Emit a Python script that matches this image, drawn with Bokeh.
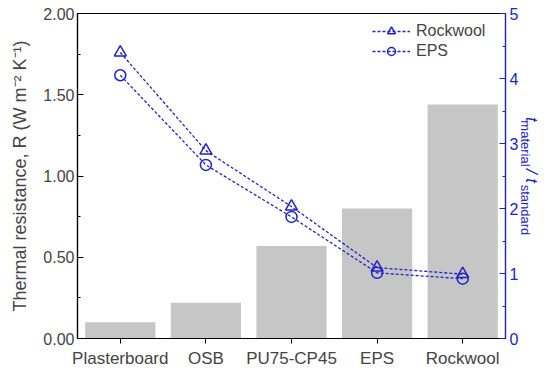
from bokeh.plotting import figure
from bokeh.models import (Range1d, LinearAxis, FactorRange, ColumnDataSource, Legend,
                          LegendItem, NumeralTickFormatter, FixedTicker)
from bokeh.embed import file_html
from bokeh.resources import INLINE

categories = ["Plasterboard", "OSB", "PU75-CP45", "EPS", "Rockwool"]
resistance = [0.10, 0.22, 0.57, 0.80, 1.44]
ratio_rockwool = [4.40, 2.89, 2.03, 1.09, 0.99]
ratio_eps = [4.05, 2.67, 1.87, 1.01, 0.92]

FONT = "Liberation Sans"
BLUE = "#2323C8"
GREY = "#C6C6C6"
NB = "\u00a0"

# approximate Liberation Sans advance widths (em) for spacing the right title
EM = {"t": .278, "/": .278, NB: .278, "m": .833, "a": .556, "e": .556, "r": .333,
      "i": .222, "l": .222, "s": .5, "n": .556, "d": .556}


def tw(s, px):
    return sum(EM.get(ch, .556) for ch in s) * px


MAIN_PX, SUB_PX = 17, 13
# inner (subscript) line: gap + "material" + gap + "standard"
inner_a = NB + "material"
pos_slash = tw(inner_a, SUB_PX) + 2
n1 = round((pos_slash - tw("t", MAIN_PX)) / tw(NB, MAIN_PX))
outer_a = "t" + NB * n1 + "/" + NB + "t"
m = round((tw(outer_a, MAIN_PX) + 1 - tw(inner_a, SUB_PX)) / tw(NB, SUB_PX))
inner = inner_a + NB * m + "standard"
n2 = round((tw(inner, SUB_PX) - tw(outer_a, MAIN_PX)) / tw(NB, MAIN_PX))
outer = outer_a + NB * n2

p = figure(width=550, height=370, x_range=FactorRange(*categories, range_padding=0),
           y_range=Range1d(0, 2.0), output_backend="svg", toolbar_location=None,
           min_border_left=77, min_border_right=45, min_border_top=13, min_border_bottom=30)
p.extra_y_ranges = {"ratio": Range1d(0, 5)}

src = ColumnDataSource(dict(cat=categories, r=resistance, rw=ratio_rockwool, eps=ratio_eps))
p.vbar(x="cat", top="r", width=0.82, source=src, fill_color=GREY, line_color=None)

l1 = p.line(x="cat", y="rw", source=src, y_range_name="ratio", line_color=BLUE,
            line_dash="3 2", line_width=1.3)
m1 = p.scatter(x="cat", y="rw", source=src, y_range_name="ratio", marker="triangle",
               size=12, line_color=BLUE, fill_color="white", fill_alpha=0, line_width=1.5)
l2 = p.line(x="cat", y="eps", source=src, y_range_name="ratio", line_color=BLUE,
            line_dash="3 2", line_width=1.3)
m2 = p.scatter(x="cat", y="eps", source=src, y_range_name="ratio", marker="circle",
               size=11, line_color=BLUE, fill_color="white", fill_alpha=0, line_width=1.5)

p.grid.visible = False
p.outline_line_color = "black"
p.outline_line_width = 1.2
p.background_fill_color = "white"
p.border_fill_color = "white"

# left axis
ya = p.yaxis[0]
ya.ticker = FixedTicker(ticks=[0, 0.5, 1.0, 1.5, 2.0], minor_ticks=[0.25, 0.75, 1.25, 1.75])
ya.formatter = NumeralTickFormatter(format="0.00")
ya.axis_label = "Thermal resistance, R (W m\u207b\u00b2 K\u207b\u00b9)"
ya.axis_label_text_font = FONT
ya.axis_label_text_font_style = "normal"
ya.axis_label_text_font_size = "18px"
ya.axis_label_standoff = 10
ya.major_label_text_font = FONT
ya.major_label_text_font_size = "16px"
ya.major_tick_in = 6
ya.major_tick_out = 0
ya.minor_tick_in = 3
ya.minor_tick_out = 0
ya.major_label_standoff = 3
ya.axis_line_width = 1.2

# bottom axis
xa = p.xaxis[0]
xa.major_label_text_font = FONT
xa.major_label_text_font_size = "17px"
xa.major_tick_in = 0
xa.major_tick_out = 5
xa.major_label_standoff = 5
xa.axis_line_width = 1.2

# right axis (ticks + subscript line of its title)
ra = LinearAxis(y_range_name="ratio",
                ticker=FixedTicker(ticks=[0, 1, 2, 3, 4, 5],
                                   minor_ticks=[0.5, 1.5, 2.5, 3.5, 4.5]))
ra.axis_line_color = BLUE
ra.major_tick_line_color = BLUE
ra.minor_tick_line_color = BLUE
ra.major_label_text_color = BLUE
ra.major_label_text_font = FONT
ra.major_label_text_font_size = "16px"
ra.major_tick_in = 6
ra.major_tick_out = 0
ra.minor_tick_in = 3
ra.minor_tick_out = 0
ra.major_label_standoff = 4
ra.axis_line_width = 1.2
ra.axis_label = inner
ra.axis_label_text_font = FONT
ra.axis_label_text_font_style = "normal"
ra.axis_label_text_font_size = f"{SUB_PX}px"
ra.axis_label_text_color = BLUE
ra.axis_label_standoff = -3
p.add_layout(ra, "right")

# second right "axis" carrying only the main letters of the title
ra2 = LinearAxis(y_range_name="ratio", ticker=FixedTicker(ticks=[]))
ra2.axis_line_color = None
ra2.major_tick_line_color = None
ra2.minor_tick_line_color = None
ra2.major_label_text_font_size = "0px"
ra2.axis_label = outer
ra2.axis_label_text_font = FONT
ra2.axis_label_text_font_style = "italic"
ra2.axis_label_text_font_size = f"{MAIN_PX}px"
ra2.axis_label_text_color = BLUE
ra2.axis_label_standoff = -15
p.add_layout(ra2, "right")

legend = Legend(items=[LegendItem(label="Rockwool", renderers=[l1, m1]),
                       LegendItem(label="EPS", renderers=[l2, m2])],
                location=(295, 277))
legend.border_line_alpha = 0
legend.background_fill_alpha = 0
legend.padding = 0
legend.margin = 0
legend.spacing = 0
legend.label_height = 20
legend.glyph_height = 20
legend.glyph_width = 38
legend.label_standoff = 6
legend.label_text_font = FONT
legend.label_text_font_size = "16px"
p.add_layout(legend)

open("out.html", "w").write(file_html(p, INLINE))
